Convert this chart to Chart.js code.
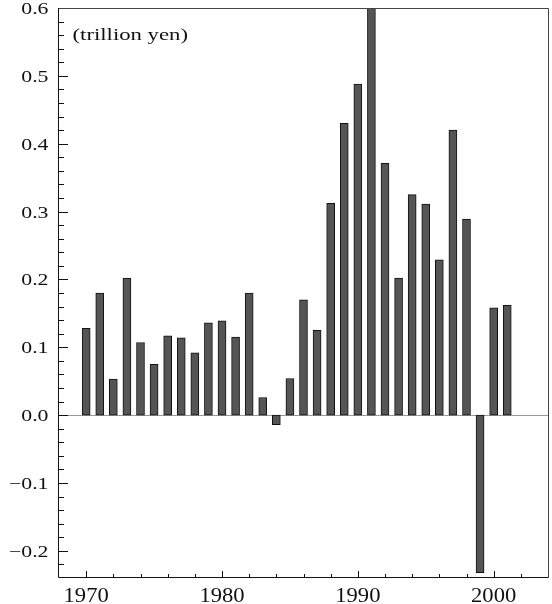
<!DOCTYPE html>
<html>
<head>
<meta charset="utf-8">
<script src="https://cdn.jsdelivr.net/npm/chart.js@4/dist/chart.umd.min.js"></script>
<style>
  body { margin: 0; background: #fff; }
  canvas { display: block; }
</style>
</head>
<body>
<canvas id="myChart" width="552" height="604"></canvas>
<script>
const years = [1970, 1971, 1972, 1973, 1974, 1975, 1976, 1977, 1978, 1979,
  1980, 1981, 1982, 1983, 1984, 1985, 1986, 1987, 1988, 1989,
  1990, 1991, 1992, 1993, 1994, 1995, 1996, 1997, 1998, 1999,
  2000, 2001];
const amounts = [0.128, 0.180, 0.053, 0.202, 0.107, 0.075, 0.117, 0.114, 0.092, 0.136,
  0.139, 0.115, 0.180, 0.026, -0.014, 0.054, 0.170, 0.125, 0.312, 0.430,
  0.488, 0.610, 0.371, 0.202, 0.325, 0.311, 0.229, 0.420, 0.289, -0.232,
  0.158, 0.162];
const yTicks = [-0.2, -0.1, 0.0, 0.1, 0.2, 0.3, 0.4, 0.5, 0.6];
const xTicks = [1970, 1980, 1990, 2000];
const unitLabel = '(trillion yen)';

// ----------------------------------------------------------------

function stretchText(ctx, str, x, y, size, sx, align) {
  ctx.save();
  ctx.font = size + 'px "Liberation Serif", "Times New Roman", serif';
  ctx.fillStyle = '#111';
  ctx.textBaseline = 'alphabetic';
  ctx.textAlign = align;
  ctx.translate(x, y);
  ctx.scale(sx, 1);
  ctx.fillText(str, 0, 0);
  ctx.restore();
}

const frame = {
  id: 'frame',
  beforeDatasetsDraw(chart) {
    const ctx = chart.ctx;
    const a = chart.chartArea;
    const zy = Math.round(chart.scales.y.getPixelForValue(0)) + 0.5;
    ctx.save();
    ctx.strokeStyle = '#999';
    ctx.lineWidth = 1;
    ctx.beginPath();
    ctx.moveTo(a.left, zy);
    ctx.lineTo(a.right, zy);
    ctx.stroke();
    ctx.restore();
  },
  afterDatasetsDraw(chart) {
    const ctx = chart.ctx;
    const a = chart.chartArea;
    const xs = chart.scales.x;
    const ys = chart.scales.y;
    ctx.save();
    ctx.lineWidth = 1;
    // box
    ctx.strokeStyle = '#444';
    ctx.beginPath();
    ctx.moveTo(a.left - 0.5, a.top + 0.5);
    ctx.lineTo(a.right + 0.5, a.top + 0.5);
    ctx.lineTo(a.right + 0.5, a.bottom - 0.5);
    ctx.stroke();
    ctx.strokeStyle = '#111';
    ctx.beginPath();
    ctx.moveTo(a.left - 0.5, a.top);
    ctx.lineTo(a.left - 0.5, a.bottom - 0.5);
    ctx.lineTo(a.right + 0.5, a.bottom - 0.5);
    ctx.stroke();

    // inward ticks, y
    ctx.beginPath();
    for (let k = -11; k <= 29; k++) {
      const py = Math.round(ys.getPixelForValue(k / 50)) + 0.5;
      const len = (k % 5 === 0) ? 9 : 5;
      ctx.moveTo(a.left, py);
      ctx.lineTo(a.left + len, py);
    }
    // inward ticks, x
    for (let yr = 1970; yr <= 2002; yr += 2) {
      const px = Math.round(xs.getPixelForValue(yr)) + 0.5;
      const len = (yr % 10 === 0) ? 7 : 4;
      ctx.moveTo(px, a.bottom);
      ctx.lineTo(px, a.bottom - len);
    }
    ctx.stroke();
    ctx.restore();

    yTicks.forEach(function (v) {
      const s = v.toFixed(1).replace('-', '\u2212');
      stretchText(ctx, s, 48.5, ys.getPixelForValue(v) + 6, 16, 1.36, 'right');
    });
    xTicks.forEach(function (v) {
      stretchText(ctx, String(v), xs.getPixelForValue(v), 602, 20, 1.13, 'center');
    });
    stretchText(ctx, unitLabel, 72.5, 40, 16, 1.42, 'left');
  }
};

const data = {
  datasets: [{
    data: years.map(function (yr, i) { return { x: yr, y: amounts[i] }; }),
    backgroundColor: '#555555',
    borderColor: '#111111',
    borderWidth: 1,
    borderSkipped: false,
    barThickness: 8,
    clip: 0
  }]
};

const config = {
  type: 'bar',
  data: data,
  plugins: [frame],
  options: {
    responsive: false,
    animation: false,
    devicePixelRatio: 1,
    layout: {
      padding: { top: 8, right: 4, left: 0, bottom: 0 }
    },
    plugins: {
      legend: { display: false },
      tooltip: { enabled: false }
    },
    scales: {
      x: {
        type: 'linear',
        min: 1968,
        max: 2004,
        offset: false,
        grid: { display: false },
        border: { display: false },
        ticks: { display: false },
        afterFit: function (scale) { scale.height = 26; }
      },
      y: {
        min: -0.24,
        max: 0.6,
        grid: { display: false },
        border: { display: false },
        ticks: { display: false },
        afterFit: function (scale) { scale.width = 59; }
      }
    }
  }
};

var canvas = document.getElementById('myChart').getContext('2d');
var myChart = new Chart(canvas, config);
</script>
</body>
</html>
